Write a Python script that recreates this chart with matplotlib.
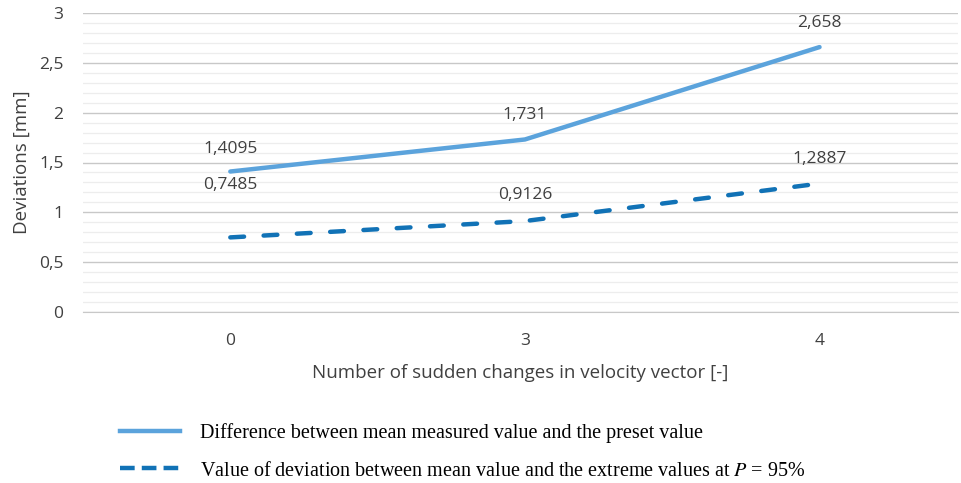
import matplotlib
matplotlib.use("Agg")
import matplotlib.pyplot as plt
from matplotlib.lines import Line2D
import numpy as np

categories = ["0", "3", "4"]
diff_values = [1.4095, 1.731, 2.658]
dev_values = [0.7485, 0.9126, 1.2887]
diff_labels = ["1,4095", "1,731", "2,658"]
dev_labels = ["0,7485", "0,9126", "1,2887"]
yticks = [0, 0.5, 1, 1.5, 2, 2.5, 3]
ytick_labels = ["0", "0,5", "1", "1,5", "2", "2,5", "3"]

plt.rcParams["font.family"] = ["Open Sans", "DejaVu Sans"]
plt.rcParams["mathtext.fontset"] = "stix"

fig = plt.figure(figsize=(9.62, 4.83), dpi=100)
ax = fig.add_axes([83/962, (483-312)/483, (958-83)/962, (312-13)/483])

x = np.arange(len(categories))
c1 = "#5BA3DC"
c2 = "#1172B6"
ax.plot(x, diff_values, color=c1, lw=3.2, solid_capstyle="round", zorder=3)
ax.plot(x, dev_values, color=c2, lw=3.2, dashes=(3.1, 4.4), dash_capstyle="round", zorder=3)

offsets_diff = [16, 17.5, 17]
offsets_dev = [38, 18.5, 18]
txtc = "#404040"
for xi, v, lab, o in zip(x, diff_values, diff_labels, offsets_diff):
    ax.annotate(lab, (xi, v), xytext=(0, o), textcoords="offset points",
                ha="center", va="center", fontsize=12.5, color=txtc)
for xi, v, lab, o in zip(x, dev_values, dev_labels, offsets_dev):
    ax.annotate(lab, (xi, v), xytext=(0, o), textcoords="offset points",
                ha="center", va="center", fontsize=12.5, color=txtc)

ax.set_xlim(-0.5, 2.47)
ax.set_ylim(0, 3)
ax.set_xticks(x)
ax.set_xticklabels(categories)
ax.set_yticks(yticks)
ax.set_yticklabels(ytick_labels)
ax.set_yticks(np.arange(0, 3.01, 0.1), minor=True)
ax.tick_params(axis="both", which="both", length=0, labelsize=12.5, labelcolor=txtc)
ax.tick_params(axis="y", pad=14)
ax.tick_params(axis="x", pad=15)
ax.grid(True, axis="y", which="major", color="#C8C8C8", lw=1.0, zorder=0)
ax.grid(True, axis="y", which="minor", color="#EDEDED", lw=0.9, zorder=0)
for s in ["top", "right", "left"]:
    ax.spines[s].set_visible(False)
ax.spines["bottom"].set_color("#C8C8C8")

ax.set_ylabel("Deviations [mm]", fontsize=13.5, color=txtc, labelpad=6)
ax.set_xlabel("Number of sudden changes in velocity vector [-]", fontsize=13.5, color=txtc, labelpad=11)

handles = [Line2D([], [], color=c1, lw=3.2),
           Line2D([], [], color=c2, lw=3.2, dashes=(3.3, 1.6))]
labels = ["Difference between mean measured value and the preset value",
          "Value of deviation between mean value and the extreme values at $P$ = 95%"]
fig.legend(handles, labels, loc="upper left", bbox_to_anchor=(120/962, 1 - 423/483),
           frameon=False, prop={"family": "Liberation Serif", "size": 14.5},
           handlelength=3.0, labelspacing=0.92, handletextpad=0.95,
           borderpad=0, borderaxespad=0)

fig.savefig("out.png", dpi=100)
